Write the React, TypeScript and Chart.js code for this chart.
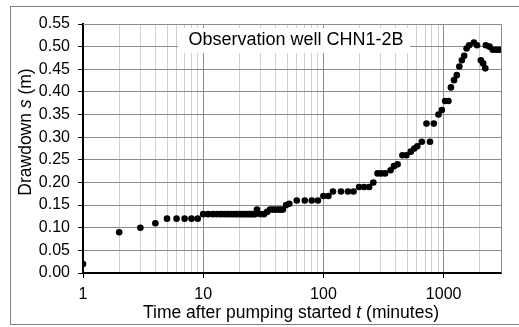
import React, { useEffect, useRef } from "react";
import { Chart, registerables } from "chart.js";
Chart.register(...registerables);

const timeMinutes = [
  1, 2, 3, 4, 5, 6, 7, 8, 9, 10, 11, 12, 13, 14, 15, 16, 17, 18, 19, 20, 21, 22, 23, 24, 25, 26, 27,
  28, 30, 32, 34, 36, 38, 40, 42, 44, 46, 49, 52, 60, 70, 80, 90, 100, 110, 120, 140, 160, 178,
  198, 218, 240, 260, 282, 302, 326, 362, 386, 414, 454, 490, 533, 570, 604, 658, 720, 770, 828,
  906, 966, 1030, 1095, 1150, 1220, 1286, 1350, 1418, 1482, 1550, 1630, 1785, 1896, 2040, 2130,
  2220, 2243, 2408, 2560, 2730, 2910,
];
const drawdownM = [
  0.02, 0.09, 0.1, 0.11, 0.12, 0.12, 0.12, 0.12, 0.12, 0.13, 0.13, 0.13, 0.13, 0.13, 0.13, 0.13,
  0.13, 0.13, 0.13, 0.13, 0.13, 0.13, 0.13, 0.13, 0.13, 0.13, 0.13, 0.14, 0.13, 0.13, 0.135, 0.14,
  0.14, 0.14, 0.14, 0.14, 0.14, 0.15, 0.153, 0.16, 0.16, 0.16, 0.16, 0.17, 0.17, 0.18, 0.18, 0.18,
  0.18, 0.19, 0.19, 0.19, 0.2, 0.22, 0.22, 0.22, 0.227, 0.236, 0.24, 0.26, 0.26, 0.268, 0.275,
  0.28, 0.29, 0.33, 0.29, 0.33, 0.35, 0.36, 0.38, 0.38, 0.41, 0.426, 0.437, 0.456, 0.47, 0.48,
  0.496, 0.503, 0.509, 0.503, 0.47, 0.463, 0.452, 0.503, 0.5, 0.493, 0.493, 0.493,
];
const yTickValues = [0, 0.05, 0.1, 0.15, 0.2, 0.25, 0.3, 0.35, 0.4, 0.45, 0.5, 0.55];
const xGridValues = [
  1, 2, 3, 4, 5, 6, 7, 8, 9, 10, 20, 30, 40, 50, 60, 70, 80, 90, 100, 200, 300, 400, 500, 600, 700,
  800, 900, 1000, 2000, 3000,
];
const xLabelValues = [1, 10, 100, 1000];
const chartTitle = "Observation well CHN1-2B";
const yTitleParts = [
  { text: "Drawdown ", italic: false },
  { text: "s", italic: true },
  { text: " (m)", italic: false },
];
const xTitleParts = [
  { text: "Time after pumping started ", italic: false },
  { text: "t", italic: true },
  { text: " (minutes)", italic: false },
];

const FONT = "'Liberation Sans', Arial, sans-serif";

function drawParts(ctx: CanvasRenderingContext2D, parts: { text: string; italic: boolean }[], size: number, cx: number, cy: number) {
  const widths = parts.map((p) => {
    ctx.font = `${p.italic ? "italic " : ""}${size}px ${FONT}`;
    return ctx.measureText(p.text).width;
  });
  const total = widths.reduce((a, b) => a + b, 0);
  let x = cx - total / 2;
  ctx.textBaseline = "middle";
  ctx.textAlign = "left";
  parts.forEach((p, i) => {
    ctx.font = `${p.italic ? "italic " : ""}${size}px ${FONT}`;
    ctx.fillText(p.text, x, cy);
    x += widths[i];
  });
}

export default function App() {
  const ref = useRef<HTMLCanvasElement>(null);
  useEffect(() => {
    document.body.style.margin = "0";
    const canvas = ref.current!;
    const points = timeMinutes.map((t, i) => ({ x: t, y: drawdownM[i] }));

    const decorations = {
      id: "decorations",
      beforeDraw(chart: any) {
        const ctx = chart.ctx;
        ctx.save();
        ctx.fillStyle = "#ffffff";
        ctx.fillRect(0, 0, chart.width, chart.height);
        ctx.restore();
      },
      beforeDatasetsDraw(chart: any) {
        const ctx = chart.ctx;
        const a = chart.chartArea;
        ctx.save();
        // plot area outline (top/right)
        ctx.strokeStyle = "#8c8c8c";
        ctx.lineWidth = 1;
        ctx.beginPath();
        ctx.moveTo(a.left, a.top + 0.5);
        ctx.lineTo(a.right + 0.5, a.top + 0.5);
        ctx.lineTo(a.right + 0.5, a.bottom);
        ctx.stroke();
        // title box
        ctx.fillStyle = "#ffffff";
        ctx.fillRect(178, 28, 232, 25);
        ctx.fillStyle = "#000000";
        ctx.font = `18px ${FONT}`;
        ctx.textAlign = "center";
        ctx.textBaseline = "middle";
        ctx.fillText(chartTitle, 296, 40);
        ctx.restore();
      },
      afterDraw(chart: any) {
        const ctx = chart.ctx;
        ctx.save();
        ctx.fillStyle = "#000000";
        drawParts(ctx, xTitleParts, 17.5, 291, 313);
        ctx.translate(26, 132);
        ctx.rotate(-Math.PI / 2);
        drawParts(ctx, yTitleParts, 17.5, 0, 0);
        ctx.restore();
        ctx.save();
        ctx.strokeStyle = "#7f7f7f";
        ctx.lineWidth = 1;
        ctx.strokeRect(10.5, 6.5, 540, 318);
        ctx.restore();
      },
    };

    const chart = new Chart(canvas, {
      type: "scatter",
      data: {
        datasets: [
          {
            data: points,
            backgroundColor: "#000000",
            borderColor: "#000000",
            pointRadius: 3.3,
            pointHoverRadius: 3.3,
            borderWidth: 0,
          },
        ],
      },
      options: {
        responsive: false,
        animation: false,
        devicePixelRatio: 1,
        layout: { padding: { top: 24, right: 18, left: 0, bottom: 0 } },
        plugins: { legend: { display: false }, tooltip: { enabled: false }, title: { display: false } },
        scales: {
          x: {
            type: "logarithmic",
            min: 1,
            max: 3000,
            afterFit: (s: any) => {
              s.height = 54;
            },
            afterBuildTicks: (s: any) => {
              s.ticks = xGridValues.map((v) => ({ value: v, major: xLabelValues.includes(v) }));
            },
            ticks: {
              autoSkip: false,
              maxRotation: 0,
              minRotation: 0,
              padding: 7,
              color: "#000000",
              font: { family: FONT, size: 16 },
              callback: (v: any) => (xLabelValues.includes(Number(v)) ? String(v) : ""),
            },
            grid: {
              color: (c: any) => (c.tick && xLabelValues.includes(c.tick.value) ? "#8c8c8c" : "#cfcfcf"),
              tickColor: (c: any) => (c.tick && xLabelValues.includes(c.tick.value) ? "#000000" : "rgba(0,0,0,0)"),
              tickLength: 5,
              lineWidth: 1,
            },
            border: { color: "#000000", width: 2 },
          },
          y: {
            type: "linear",
            min: 0,
            max: 0.55,
            afterFit: (s: any) => {
              s.width = 83;
            },
            afterBuildTicks: (s: any) => {
              s.ticks = yTickValues.map((v) => ({ value: v }));
            },
            ticks: {
              autoSkip: false,
              padding: 8,
              color: "#000000",
              font: { family: FONT, size: 16 },
              callback: (v: any) => Number(v).toFixed(2),
            },
            grid: { color: "#8c8c8c", tickColor: "#000000", tickLength: 5, lineWidth: 1 },
            border: { color: "#000000", width: 2 },
          },
        },
      },
      plugins: [decorations],
    });
    return () => chart.destroy();
  }, []);
  return <canvas ref={ref} width={519} height={327} style={{ display: "block" }} />;
}
